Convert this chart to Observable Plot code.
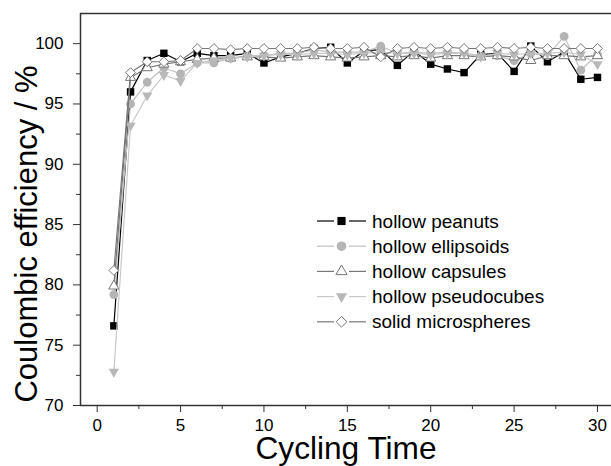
<!DOCTYPE html>
<html><head><meta charset="utf-8">
<script src="https://cdn.jsdelivr.net/npm/d3@7"></script>
<script src="https://cdn.jsdelivr.net/npm/@observablehq/plot@0.6"></script>
<style>
html,body{margin:0;padding:0;background:#fff;}
svg text{font-family:"Liberation Sans",Arial,sans-serif;}
</style></head><body><div id="chart"></div>
<script>
const cycles = [1,2,3,4,5,6,7,8,9,10,11,12,13,14,15,16,17,18,19,20,21,22,23,24,25,26,27,28,29,30];
const peanuts = [76.6,96.0,98.6,99.2,98.5,99.2,99.0,99.0,99.2,98.4,98.9,99.2,99.6,99.7,98.4,99.4,99.5,98.2,99.4,98.3,97.9,97.6,99.1,99.2,97.7,99.8,98.5,99.3,97.05,97.2];
const ellipsoids = [79.2,95.0,96.8,98.0,97.5,98.4,98.4,98.8,99.0,99.0,99.2,99.2,99.5,99.3,99.3,99.3,99.8,99.2,99.3,99.2,99.3,99.2,99.0,99.0,98.6,99.2,99.0,100.6,97.8,99.1];
const capsules = [79.9,97.2,98.0,98.3,98.5,98.7,98.8,98.8,98.9,98.9,98.8,98.9,99.0,98.9,98.8,98.9,99.0,98.9,99.0,98.8,99.0,99.0,98.9,99.0,98.9,98.6,99.0,99.0,98.9,99.0];
const pseudocubes = [72.8,93.2,95.7,97.4,96.9,98.4,98.6,98.8,98.9,99.0,99.1,99.1,99.2,99.2,99.1,99.2,99.3,99.2,99.2,99.1,99.2,99.2,98.9,99.2,99.1,99.2,99.2,99.3,99.1,98.3];
const microspheres = [81.2,97.6,98.5,98.5,98.6,99.6,99.6,99.5,99.6,99.6,99.6,99.6,99.7,99.6,99.6,99.7,98.9,99.6,99.7,99.6,99.7,99.6,99.6,99.7,99.6,99.7,99.6,99.6,99.6,99.6];
const seriesNames = ["hollow peanuts","hollow ellipsoids","hollow capsules","hollow pseudocubes","solid microspheres"];
const xMajor = [0,5,10,15,20,25,30];
const xMinor = [2.5,7.5,12.5,17.5,22.5,27.5];
const yMajor = [70,75,80,85,90,95,100];
const yMinor = [72.5,77.5,82.5,87.5,92.5,97.5];

const valuesList = [peanuts, ellipsoids, capsules, pseudocubes, microspheres];
const styles = [
  {line:"#000", symbol:"square", d3sym:d3.symbolSquare, fill:"#000", stroke:"none", r:4.2, rotate:0},
  {line:"#c0c0c0", symbol:"circle", d3sym:d3.symbolCircle, fill:"#b4b4b4", stroke:"none", r:4.4, rotate:0},
  {line:"#777", symbol:"triangle", d3sym:d3.symbolTriangle, fill:"#fff", stroke:"#777", r:3.8, rotate:0},
  {line:"#c8c8c8", symbol:"triangle", d3sym:d3.symbolTriangle, fill:"#b8b8b8", stroke:"none", r:3.8, rotate:180},
  {line:"#777", symbol:"diamond2", d3sym:d3.symbolDiamond2, fill:"#fff", stroke:"#777", r:4.4, rotate:0}
];
const rows = valuesList.map((vals, k) => cycles.map((c, i) => ({cycle: c, value: vals[i], name: seriesNames[k]})));

const marks = [];
rows.forEach((data, k) => {
  const s = styles[k];
  marks.push(Plot.line(data, {x: "cycle", y: "value", stroke: s.line, strokeWidth: 1.2}));
  marks.push(Plot.dot(data, {x: "cycle", y: "value", symbol: () => s.symbol, r: s.r, fill: s.fill, stroke: s.stroke, strokeWidth: 1, rotate: s.rotate}));
});

const chart = Plot.plot({
  width: 611, height: 466,
  marginLeft: 80, marginRight: 0, marginTop: 13, marginBottom: 61,
  style: {fontFamily: "Liberation Sans, Arial, sans-serif", color: "#000", background: "#fff"},
  x: {domain: [-1, 30.84]},
  y: {domain: [70, 102.5]},
  marks: [
    ...marks,
    Plot.axisX({ticks: xMajor, tickSize: 7, tickPadding: 6, fontSize: 17, label: null, stroke: "#333", tickFormat: d => d}),
    Plot.axisX({ticks: xMinor, tickSize: 4, label: null, stroke: "#333", tickFormat: () => ""}),
    Plot.axisY({ticks: yMajor, tickSize: 7, tickPadding: 10, fontSize: 17, label: null, stroke: "#333", tickFormat: d => d}),
    Plot.axisY({ticks: yMinor, tickSize: 4, label: null, stroke: "#333", tickFormat: () => ""}),
    Plot.ruleX([-1], {stroke: "#333", strokeWidth: 1.5}),
    Plot.ruleY([70, 102.5], {stroke: "#333", strokeWidth: 1.5})
  ]
});
document.getElementById("chart").appendChild(chart);

const svg = d3.select(chart);
// axis titles
svg.append("text").attr("x", 346).attr("y", 459).attr("text-anchor", "middle")
  .attr("font-size", 32).attr("textLength", 181).attr("lengthAdjust", "spacingAndGlyphs")
  .attr("fill", "#000").text("Cycling Time");
svg.append("text").attr("transform", "translate(37,234) rotate(-90)").attr("text-anchor", "middle")
  .attr("font-size", 31).attr("fill", "#000").text("Coulombic efficiency / %");

// legend
const lg = svg.append("g").attr("transform", "translate(317,221)");
seriesNames.forEach((name, i) => {
  const s = styles[i];
  const g = lg.append("g").attr("transform", `translate(0,${i * 25.2})`);
  g.append("line").attr("x1", 0).attr("x2", 17).attr("y1", 0).attr("y2", 0).attr("stroke", s.line).attr("stroke-width", 1.2);
  g.append("line").attr("x1", 32).attr("x2", 49).attr("y1", 0).attr("y2", 0).attr("stroke", s.line).attr("stroke-width", 1.2);
  g.append("path").attr("d", d3.symbol(s.d3sym, Math.PI * s.r * s.r * 1.2)())
    .attr("transform", `translate(24.5,0) rotate(${s.rotate})`)
    .attr("fill", s.fill).attr("stroke", s.stroke === "none" ? "none" : s.stroke).attr("stroke-width", 1);
  g.append("text").attr("x", 55).attr("dy", "0.35em").attr("text-anchor", "start")
    .attr("font-size", 19).attr("fill", "#000").text(name);
});
</script></body></html>
